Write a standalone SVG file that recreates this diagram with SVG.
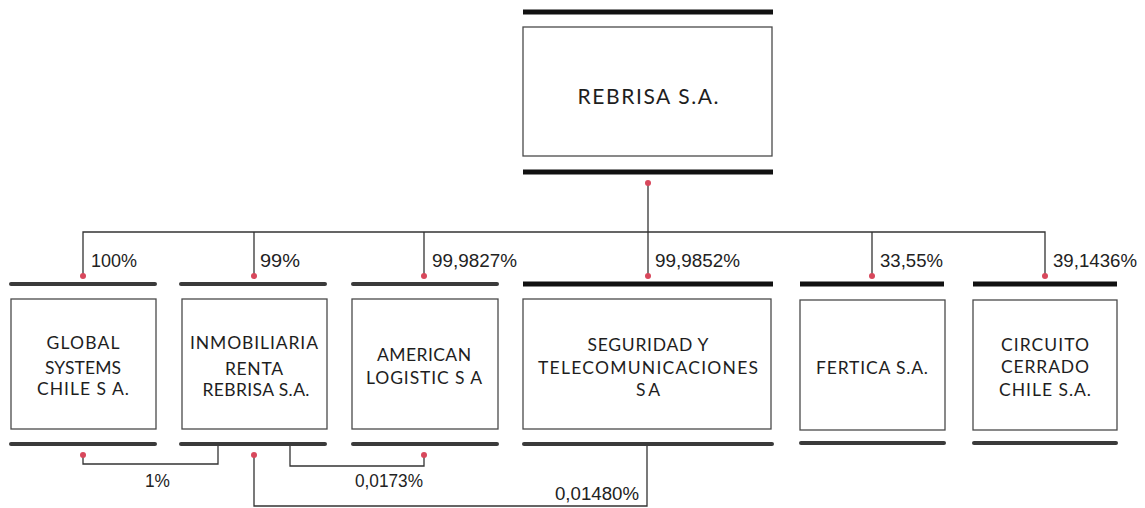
<svg xmlns="http://www.w3.org/2000/svg" width="1145" height="508" viewBox="0 0 1145 508">
<style>
.bg{fill:#ffffff}
.box{fill:#ffffff;stroke:#4a4a4a;stroke-width:1.3}
.barK{stroke:#111;stroke-width:5;stroke-linecap:butt}
.bar{stroke:#3a3a3a;stroke-width:4;stroke-linecap:round}
.conn{fill:none;stroke:#333;stroke-width:1.3}
.dot{fill:#d8485c}
.name{font-family:Lato,"Open Sans","Liberation Sans",sans-serif;font-size:17.5px;fill:#1e1e1e;text-anchor:middle}
.big{font-size:21px}
.pct{font-family:"Liberation Sans",Arial,sans-serif;font-size:18px;fill:#222}
</style>
<rect class="bg" x="0" y="0" width="1145" height="508"/>

<g id="connectors">
  <path class="conn" d="M648,183 V276"/>
  <path class="conn" d="M83,276 V232 H1045 V276"/>
  <path class="conn" d="M254,232 V276"/>
  <path class="conn" d="M424,232 V276"/>
  <path class="conn" d="M872,232 V276"/>
  <path class="conn" d="M83,455 V464 H218 V444"/>
  <path class="conn" d="M254,455 V506 H647 V444"/>
  <path class="conn" d="M290,444 V466 H424 V455"/>
  <circle class="dot" cx="648" cy="183" r="3"/>
  <circle class="dot" cx="83" cy="276" r="3"/>
  <circle class="dot" cx="254" cy="276" r="3"/>
  <circle class="dot" cx="424" cy="276" r="3"/>
  <circle class="dot" cx="648" cy="276" r="3"/>
  <circle class="dot" cx="872" cy="276" r="3"/>
  <circle class="dot" cx="1045" cy="276" r="3"/>
  <circle class="dot" cx="83" cy="455" r="3"/>
  <circle class="dot" cx="254" cy="455" r="3"/>
  <circle class="dot" cx="424" cy="455" r="3"/>
  <text class="pct" x="91" y="267" textLength="46" lengthAdjust="spacingAndGlyphs">100%</text>
  <text class="pct" x="260" y="267" textLength="40" lengthAdjust="spacingAndGlyphs">99%</text>
  <text class="pct" x="432" y="267" textLength="85" lengthAdjust="spacingAndGlyphs">99,9827%</text>
  <text class="pct" x="655" y="267" textLength="85" lengthAdjust="spacingAndGlyphs">99,9852%</text>
  <text class="pct" x="880" y="267" textLength="63" lengthAdjust="spacingAndGlyphs">33,55%</text>
  <text class="pct" x="1053" y="267" textLength="84" lengthAdjust="spacingAndGlyphs">39,1436%</text>
  <text class="pct" x="145" y="487" textLength="25" lengthAdjust="spacingAndGlyphs">1%</text>
  <text class="pct" x="355" y="487" textLength="68" lengthAdjust="spacingAndGlyphs">0,0173%</text>
  <text class="pct" x="555" y="500" textLength="84" lengthAdjust="spacingAndGlyphs">0,01480%</text>
</g>

<g id="rebrisa">
  <line class="barK" x1="523" y1="12" x2="773" y2="12"/>
  <rect class="box" x="523" y="27" width="249" height="129"/>
  <line class="barK" x1="523" y1="172" x2="773" y2="172"/>
  <text class="name big" x="648" y="104" textLength="141">REBRISA S.A.</text>
</g>

<g id="global">
  <line class="bar" x1="11" y1="284" x2="155" y2="284"/>
  <rect class="box" x="11" y="299" width="145" height="130"/>
  <line class="bar" x1="11" y1="444" x2="155" y2="444"/>
  <text class="name" x="83" y="349" textLength="73">GLOBAL</text>
  <text class="name" x="83" y="374" textLength="76">SYSTEMS</text>
  <text class="name" x="83" y="395" textLength="92">CHILE S A.</text>
</g>

<g id="inmobiliaria">
  <line class="bar" x1="181" y1="284" x2="325" y2="284"/>
  <rect class="box" x="182" y="299" width="145" height="130"/>
  <line class="bar" x1="181" y1="444" x2="325" y2="444"/>
  <text class="name" x="254" y="349" textLength="128">INMOBILIARIA</text>
  <text class="name" x="254" y="375" textLength="58">RENTA</text>
  <text class="name" x="256" y="396" textLength="107">REBRISA S.A.</text>
</g>

<g id="american">
  <line class="bar" x1="353" y1="284" x2="497" y2="284"/>
  <rect class="box" x="352" y="299" width="146" height="130"/>
  <line class="bar" x1="353" y1="444" x2="497" y2="444"/>
  <text class="name" x="424" y="361" textLength="94">AMERICAN</text>
  <text class="name" x="424" y="384" textLength="116">LOGISTIC S A</text>
</g>

<g id="seguridad">
  <line class="barK" x1="523" y1="284" x2="773" y2="284"/>
  <rect class="box" x="523" y="299" width="248" height="130"/>
  <line class="bar" x1="524" y1="444" x2="772" y2="444"/>
  <text class="name" x="648" y="351" textLength="121">SEGURIDAD Y</text>
  <text class="name" x="648" y="374" textLength="220">TELECOMUNICACIONES</text>
  <text class="name" x="648" y="396" textLength="24">S A</text>
</g>

<g id="fertica">
  <line class="barK" x1="800" y1="284" x2="944" y2="284"/>
  <rect class="box" x="800" y="300" width="145" height="130"/>
  <line class="bar" x1="801" y1="443" x2="944" y2="443"/>
  <text class="name" x="872" y="374" textLength="112">FERTICA S.A.</text>
</g>

<g id="circuito">
  <line class="barK" x1="973" y1="284" x2="1117" y2="284"/>
  <rect class="box" x="973" y="300" width="144" height="130"/>
  <line class="bar" x1="974" y1="443" x2="1116" y2="443"/>
  <text class="name" x="1045" y="351" textLength="88">CIRCUITO</text>
  <text class="name" x="1045" y="373" textLength="88">CERRADO</text>
  <text class="name" x="1045" y="396" textLength="92">CHILE S.A.</text>
</g>
</svg>
